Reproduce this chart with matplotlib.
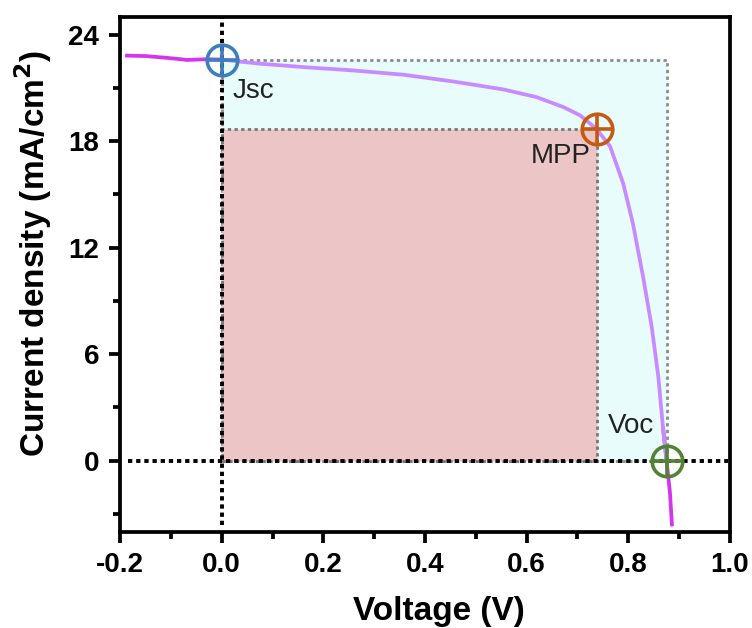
import numpy as np
import matplotlib
matplotlib.use("Agg")
import matplotlib.pyplot as plt
from matplotlib.patches import Rectangle

plt.rcParams['font.family'] = ['Liberation Sans', 'DejaVu Sans']

# J-V curve (voltage in V, current density in mA/cm^2)
voltage = [-0.190, -0.150, -0.108, -0.080, -0.069, -0.030, 0.000, 0.017, 0.075,
           0.160, 0.259, 0.357, 0.455, 0.554, 0.619, 0.672, 0.705, 0.737,
           0.764, 0.790, 0.809, 0.829, 0.846, 0.859, 0.868, 0.875, 0.882, 0.886]
current = [22.83, 22.80, 22.70, 22.62, 22.58, 22.62, 22.60, 22.55, 22.37,
           22.18, 21.99, 21.75, 21.37, 20.92, 20.49, 19.93, 19.46, 18.71,
           17.72, 15.62, 13.37, 10.37, 7.55, 4.74, 1.93, 0.06, -1.82, -3.70]

# Key device parameters
jsc = 22.60
v_mpp, j_mpp = 0.739, 18.71
voc = 0.876

point_labels = ["Jsc", "MPP", "Voc"]
point_colors = ["#3d7ebf", "#c55a11", "#548235"]

fig = plt.figure(figsize=(7.52, 6.28), dpi=100)
ax = fig.add_axes([0.1596, 0.1534, 0.8111, 0.8195])

v = np.array(voltage)
j = np.array(current)

# shaded rectangles: Jsc x Voc and Jmpp x Vmpp
ax.add_patch(Rectangle((0, 0), voc, jsc, facecolor="#e8fcfc", edgecolor="#8c8c8c",
                       linestyle=(0, (1.2, 1.2)), linewidth=2.0, zorder=1))
ax.add_patch(Rectangle((0, 0), v_mpp, j_mpp, facecolor="#ecc6c6", edgecolor="#777777",
                       linestyle=(0, (1.2, 1.2)), linewidth=2.0, zorder=2))

# curve: light segment between Jsc and Voc, magenta outside
inner = (v >= 0) & (v <= 0.875)
left = v <= 0
right = v >= 0.868
ax.plot(v[left], j[left], color="#d633f0", lw=2.7, zorder=4, solid_capstyle="butt")
ax.plot(v[right], j[right], color="#d633f0", lw=2.7, zorder=4, solid_capstyle="butt")
ax.plot(v[inner], j[inner], color="#c78bff", lw=2.7, zorder=4, solid_joinstyle="round")

# reference axes at V=0 and J=0
ax.axvline(0, ymin=0.012, ymax=1, color="black", lw=2.8, linestyle=(0, (1.1, 1.0)), zorder=3)
ax.axhline(0, xmin=0.013, xmax=0.997, color="black", lw=2.8, linestyle=(0, (1.1, 1.0)), zorder=3)

# characteristic points
pts = [(0.0, jsc), (v_mpp, j_mpp), (voc, 0.0)]
for (px, py), c in zip(pts, point_colors):
    ax.plot(px, py, marker="o", ms=22, mfc="none", mec=c, mew=2.6, zorder=6)
    ax.plot(px, py, marker="+", ms=22, mec=c, mew=2.6, zorder=6)

ax.text(0.022, 20.85, point_labels[0], fontsize=20, color="#222222", ha="left", va="center", zorder=7)
ax.text(0.726, 17.15, point_labels[1], fontsize=20, color="#222222", ha="right", va="center", zorder=7)
ax.text(0.759, 1.93, point_labels[2], fontsize=20, color="#222222", ha="left", va="center", zorder=7)

ax.set_xlim(-0.2, 1.0)
ax.set_ylim(-4, 25)
ax.set_xticks(np.arange(-0.2, 1.01, 0.2))
ax.set_xticklabels(["-0.2", "0.0", "0.2", "0.4", "0.6", "0.8", "1.0"])
ax.set_xticks(np.arange(-0.1, 1.0, 0.2), minor=True)
ax.set_yticks([0, 6, 12, 18, 24])
ax.set_yticks([-3, 3, 9, 15, 21], minor=True)

for s in ax.spines.values():
    s.set_linewidth(2.7)
ax.tick_params(which="major", direction="out", length=8, width=2.7, labelsize=20, pad=7)
ax.tick_params(which="minor", direction="out", length=5, width=2.7)
ax.tick_params(top=False, right=False)
for lab in ax.get_xticklabels() + ax.get_yticklabels():
    lab.set_fontweight("bold")

ax.set_xlabel("Voltage (V)", fontsize=24, fontweight="bold")
ax.set_ylabel("Current density (mA/cm$^\\mathbf{2}$)", fontsize=24, fontweight="bold")
ax.xaxis.set_label_coords(0.523, -0.125)
ax.yaxis.set_label_coords(-0.108, 0.541)

fig.savefig("out.png", dpi=100)
